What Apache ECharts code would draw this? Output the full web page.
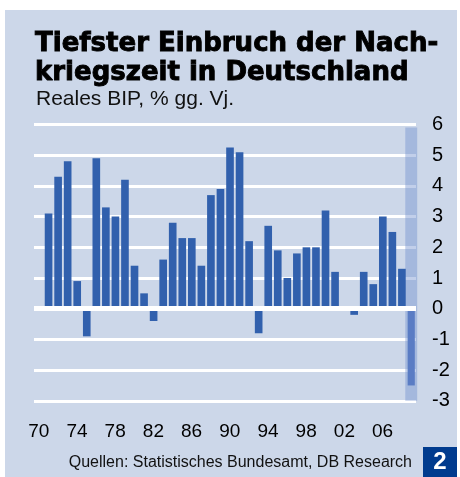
<!DOCTYPE html>
<html>
<head>
<meta charset="utf-8">
<script src="https://cdn.jsdelivr.net/npm/echarts@6/dist/echarts.min.js"></script>
<style>
  html, body { margin: 0; padding: 0; background: #ffffff; }
  #view { width: 460px; height: 477px; }
</style>
</head>
<body>
<div id="view"></div>
<script>
// Reales BIP Deutschland, % gg. Vj., 1970-2009
let years = ["70", "71", "72", "73", "74", "75", "76", "77", "78", "79",
  "80", "81", "82", "83", "84", "85", "86", "87", "88", "89",
  "90", "91", "92", "93", "94", "95", "96", "97", "98", "99",
  "00", "01", "02", "03", "04", "05", "06", "07", "08", "09"];
let gdp = [null, 3.1, 4.3, 4.8, 0.9, -0.9, 4.9, 3.3, 3.0, 4.2,
  1.4, 0.5, -0.4, 1.6, 2.8, 2.3, 2.3, 1.4, 3.7, 3.9,
  5.25, 5.1, 2.2, -0.8, 2.7, 1.9, 1.0, 1.8, 2.0, 2.0,
  3.2, 1.2, 0.0, -0.2, 1.2, 0.8, 3.0, 2.5, 1.3];
// Prognose 2009
let forecastYear = "09";
let forecastValue = -2.5;
let forecastBand = [5.9, -3];
let yTicks = [-3, -2, -1, 0, 1, 2, 3, 4, 5, 6];

let myChart = echarts.init(document.getElementById("view"));

let forecastIndex = years.indexOf(forecastYear);
let forecastData = years.map((y, i) => (i === forecastIndex ? forecastValue : null));

let titleStyle = {
  fill: "#000000",
  stroke: "#000000",
  lineWidth: 0.9,
  font: "bold 26px 'DejaVu Sans', sans-serif",
  verticalAlign: "middle",
};

let option = {
  backgroundColor: "#ffffff",
  animation: false,
  graphic: [
    { type: "rect", shape: { x: 5, y: 10, width: 452, height: 467 }, style: { fill: "#ccd7e9" }, z: -10 },
    { type: "rect", shape: { x: 423, y: 447, width: 34, height: 30 }, style: { fill: "#003b8e" }, z: 10 },
    {
      type: "text", x: 440, y: 462, z: 11,
      style: { text: "2", fill: "#ffffff", font: "bold 24px 'Liberation Sans', Arial, sans-serif", align: "center", verticalAlign: "middle" },
    },
    {
      type: "text", x: 35, y: 44, z: 11,
      style: Object.assign({ text: "Tiefster Einbruch der Nach-" }, titleStyle),
    },
    {
      type: "text", x: 35, y: 73.5, z: 11,
      style: Object.assign({ text: "kriegszeit in Deutschland" }, titleStyle),
    },
    {
      type: "text", x: 36, y: 99.5, z: 11,
      style: { text: "Reales BIP, % gg. Vj.", fill: "#111111", font: "21px 'Liberation Sans', Arial, sans-serif", verticalAlign: "middle" },
    },
    {
      type: "text", x: 412, y: 462.5, z: 11,
      style: { text: "Quellen: Statistisches Bundesamt, DB Research", fill: "#111111", font: "16px 'Liberation Sans', Arial, sans-serif", align: "right", verticalAlign: "middle" },
    },
  ],
  grid: {
    left: 34,
    right: 44,
    top: 124.5,
    bottom: 76.2,
    containLabel: false,
  },
  xAxis: {
    type: "category",
    data: years,
    axisLine: { show: false },
    axisTick: { show: false },
    axisLabel: {
      interval: 3,
      margin: 21,
      color: "#000000",
      fontSize: 19,
      fontFamily: "'Liberation Sans', Arial, sans-serif",
    },
  },
  yAxis: {
    type: "value",
    position: "right",
    min: yTicks[0],
    max: yTicks[yTicks.length - 1],
    interval: 1,
    axisLine: { show: false },
    axisTick: { show: false },
    axisLabel: {
      margin: 16,
      align: "left",
      color: "#000000",
      fontSize: 20,
      fontFamily: "'Liberation Sans', Arial, sans-serif",
    },
    splitLine: { lineStyle: { color: "#ffffff", width: 3 } },
  },
  series: [
    {
      name: "Prognose-Band",
      type: "custom",
      z: 1,
      data: [[forecastIndex, forecastBand[0], forecastBand[1]]],
      renderItem: function (params, api) {
        let top = api.coord([api.value(0), api.value(1)]);
        let bottom = api.coord([api.value(0), api.value(2)]);
        let w = api.size([1, 0])[0] * 1.25;
        return {
          type: "rect",
          shape: { x: top[0] - w / 2, y: top[1], width: w, height: bottom[1] - top[1] },
          style: { fill: "rgba(110,140,205,0.42)" },
        };
      },
    },
    {
      name: "BIP",
      type: "bar",
      z: 2,
      barWidth: "80%",
      barGap: "-100%",
      data: gdp,
      itemStyle: { color: "#3160ad" },
      markLine: {
        silent: true,
        symbol: "none",
        label: { show: false },
        lineStyle: { color: "#ffffff", width: 5, type: "solid" },
        data: [{ yAxis: 0 }],
        z: 5,
      },
    },
    {
      name: "Prognose",
      type: "bar",
      z: 3,
      barWidth: "75%",
      data: forecastData,
      itemStyle: { color: "#5a7cc4" },
    },
  ],
};
myChart.setOption(option);
</script>
</body>
</html>
